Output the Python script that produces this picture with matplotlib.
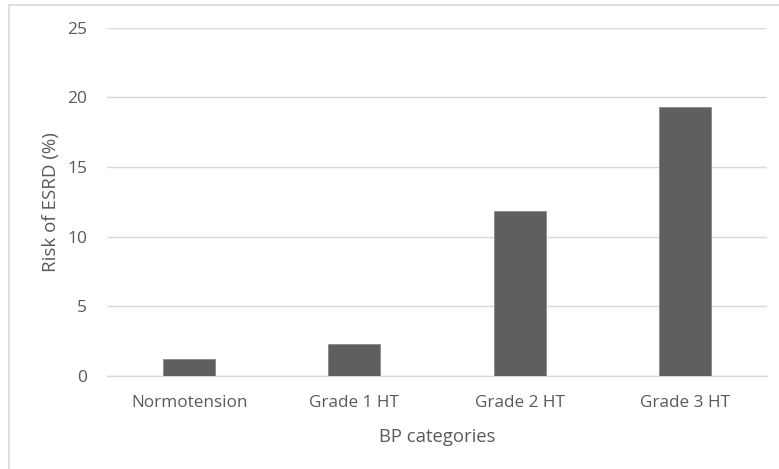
import matplotlib
matplotlib.use("Agg")
import matplotlib.pyplot as plt
from matplotlib.lines import Line2D

categories = ["Normotension", "Grade 1 HT", "Grade 2 HT", "Grade 3 HT"]
risk = [1.2, 2.3, 11.85, 19.3]
yticks = [0, 5, 10, 15, 20, 25]

plt.rcParams['font.family'] = ['Open Sans', 'DejaVu Sans']
W, H = 779, 469
fig = plt.figure(figsize=(W / 100, H / 100), dpi=100)
ax_h = 348.3
ax = fig.add_axes([106.7 / W, (H - 376) / H, 660.5 / W, ax_h / H])

x = range(len(categories))
ax.bar(x, risk, width=0.315, color="#5f5f5f", edgecolor="#8a8a8a", linewidth=0.6, zorder=3)
ax.set_xlim(-0.5, 3.5)
ax.set_ylim(0, 25)
ax.set_yticks(yticks)
ax.set_yticklabels([str(t) for t in yticks])
ax.set_xticks(list(x))
ax.set_xticklabels(categories)
ax.yaxis.grid(True, color="#d9d9d9", linewidth=1.0, zorder=0)
ax.set_axisbelow(True)
for s in ["top", "right", "left"]:
    ax.spines[s].set_visible(False)
ax.spines["bottom"].set_color("#d9d9d9")
ax.spines["bottom"].set_linewidth(1.0)
ax.tick_params(axis="both", length=0, labelcolor="#595959")
ax.tick_params(axis="y", pad=14, labelsize=12.5)
ax.tick_params(axis="x", pad=14, labelsize=12.3)
ax.set_xlabel("BP categories", fontsize=13.3, color="#595959", va="center")
ax.xaxis.set_label_coords(0.5, -(437 - 376) / ax_h)
ax.set_ylabel("Risk of ESRD (%)", fontsize=13.5, color="#595959", va="center")
ax.yaxis.set_label_coords(-(106.7 - 51) / 660.5, 0.5)

# outer chart border (left and top visible)
fig.add_artist(Line2D([8.5 / W, 8.5 / W], [0, 1 - 5 / H], transform=fig.transFigure, color="#d9d9d9", linewidth=1.2))
fig.add_artist(Line2D([8.5 / W, 1], [1 - 5 / H, 1 - 5 / H], transform=fig.transFigure, color="#d9d9d9", linewidth=1.2))

fig.savefig("out.png", dpi=100)
